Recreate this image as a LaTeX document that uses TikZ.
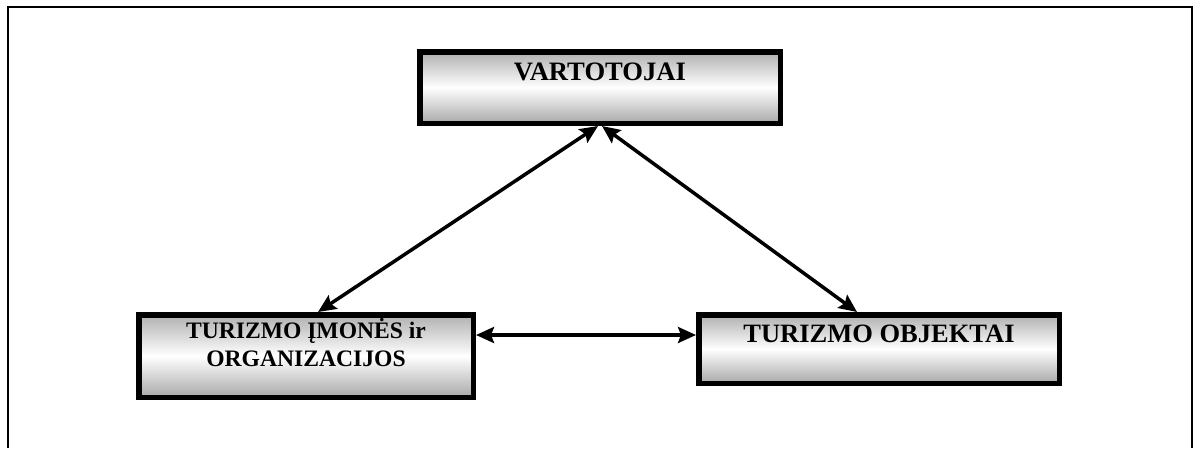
\documentclass[tikz,border=0pt]{standalone}
\usepackage{fontspec}
\setmainfont{Liberation Serif}
\usetikzlibrary{arrows.meta}

\tikzset{
  blok/.style 2 args={draw=black, line width=5.5pt, top color=gray!62, bottom color=gray!68,
    middle color=white, minimum width=#1, minimum height=#2, inner sep=0pt},
  zodis/.style={font=\bfseries\fontsize{#1}{28}\selectfont, inner sep=0pt, align=center},
  rysys/.style={line width=3.5pt, {Stealth[length=18pt,width=16pt,inset=3pt]}-{Stealth[length=18pt,width=16pt,inset=3pt]}}
}

\begin{document}
\begin{tikzpicture}[x=1pt, y=-1pt]
  \useasboundingbox (0,0) rectangle (1199,448);
  % remelis
  \draw[line width=2pt] (8,448) -- (8,7) -- (1192,7) -- (1192,448);

  \node[blok={360.5pt}{71.5pt}] (vart) at (600,87.5) {};
  \node[blok={334.5pt}{82.5pt}] (imon) at (306,356) {};
  \node[blok={360.5pt}{68.5pt}] (obj) at (879,349) {};

  \node[zodis=26.6, anchor=base] (vartT) at ([yshift=-31pt]vart.north) {VARTOTOJAI};
  \node[zodis=23.6, anchor=base] (imonT) at ([yshift=-54pt]imon.north) {TURIZMO ĮMONĖS ir\\ORGANIZACIJOS};
  \node[zodis=26.5, anchor=base] (objT) at ([yshift=-30pt]obj.north) {TURIZMO OBJEKTAI};

  \draw[rysys] ([xshift=-2pt]vart.south) -- ([xshift=12pt]imon.north);
  \draw[rysys] ([xshift=2pt]vart.south) -- ([xshift=-22pt]obj.north);
  \draw[rysys] ([yshift=21pt]imon.east) -- ([yshift=21pt]imon.east -| obj.west);
\end{tikzpicture}
\end{document}
